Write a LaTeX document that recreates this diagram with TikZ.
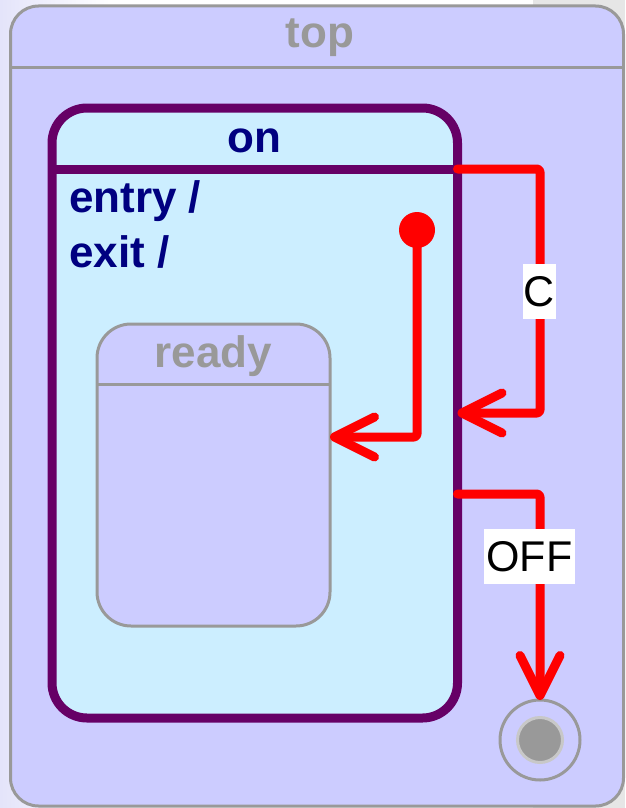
\documentclass[tikz,border=0pt]{standalone}
\usepackage{fontspec}
\setmainfont{Liberation Sans}
\usetikzlibrary{arrows.meta}
\definecolor{topfill}{HTML}{CCCCFF}
\definecolor{stgray}{HTML}{999999}
\definecolor{onfill}{HTML}{CCEEFF}
\definecolor{onpurple}{HTML}{660066}
\definecolor{navytext}{HTML}{000080}
\definecolor{bggray}{HTML}{E6E6E6}
\definecolor{bglav}{HTML}{E4E4FA}
\definecolor{innergray}{HTML}{C8C8C8}
\tikzset{
  topstate/.style={draw=stgray,line width=3pt,fill=topfill,rounded corners=28pt,inner sep=0pt,outer sep=0pt},
  onstate/.style={draw=onpurple,line width=9pt,fill=onfill,rounded corners=35pt,inner sep=0pt,outer sep=0pt},
  readystate/.style={draw=stgray,line width=3pt,fill=topfill,rounded corners=34pt,inner sep=0pt,outer sep=0pt},
  bigbold/.style={font=\fontsize{44}{50}\selectfont\bfseries,inner sep=0pt},
  trans/.style={draw=red,line width=9pt,line cap=round,line join=round,rounded corners=3pt},
  lbl/.style={fill=white,font=\fontsize{43}{50}\selectfont,inner sep=0pt,text=black},
  >={Straight Barb[length=40pt,width=40pt,round]}
}
\begin{document}
\begin{tikzpicture}[x=1pt,y=-1pt]
\useasboundingbox (0,0) rectangle (625,808);
% background
\fill[white] (0,0) rectangle (625,808);
\shade[left color=bglav,right color=white] (0,0) rectangle (110,808);
\fill[bggray] (533,0) rectangle (625,808);
% top state
\node[topstate,minimum width=613pt,minimum height=800pt] (topbox) at (317,406) {};
\coordinate (tsep) at (0,67.5);
\draw[stgray,line width=3pt] (topbox.west |- tsep) -- (topbox.east |- tsep);
\node[bigbold,text=stgray,anchor=base] (toplabel) at (320,48) {top};
% on state
\node[onstate,minimum width=405.5pt,minimum height=610pt] (on) at (254.75,413) {};
\coordinate (osep) at (0,169);
\draw[onpurple,line width=9pt] (on.west |- osep) -- (on.east |- osep);
\node[bigbold,text=navytext,anchor=base] (onlabel) at (254.5,152) {on};
\node[bigbold,text=navytext,anchor=base west] (entry) at (69,212) {entry /};
\node[bigbold,text=navytext,anchor=base west] (exit) at (69,267) {exit /};
% ready state
\node[readystate,minimum width=233pt,minimum height=302pt] (ready) at (213.5,475) {};
\coordinate (rsep) at (0,384);
\draw[stgray,line width=3pt] (ready.west |- rsep) -- (ready.east |- rsep);
\node[bigbold,text=stgray,anchor=base] (readylabel) at (213.5,367) {ready};
% final state
\node[circle,draw=stgray,line width=3pt,fill=topfill,minimum size=80pt,inner sep=0pt,outer sep=0pt] (final) at (540,740) {};
\node[circle,draw=innergray,line width=3pt,fill=stgray,minimum size=45pt,inner sep=0pt] (finaldot) at (final.center) {};
% initial state
\coordinate (c3) at (417,437);
\draw[trans,->] (417,230) -- (c3) -- (ready.east |- c3);
\node[circle,fill=red,minimum size=36pt,inner sep=0pt] (init) at (417,230) {};
% C transition
\coordinate (c1) at (540,169);
\coordinate (c2) at (540,413);
\draw[trans,->] (on.east |- c1) -- (c1) -- (c2) -- (on.east);
\node[lbl,minimum width=33pt,minimum height=55pt] (lC) at (539.5,291.5) {C};
% OFF transition
\coordinate (c4) at (540,494);
\draw[trans,->] (on.east |- c4) -- (c4) -- (final.north);
\node[lbl,minimum width=91pt,minimum height=55pt] (lOFF) at (529.5,556.5) {OFF};
\end{tikzpicture}
\end{document}
